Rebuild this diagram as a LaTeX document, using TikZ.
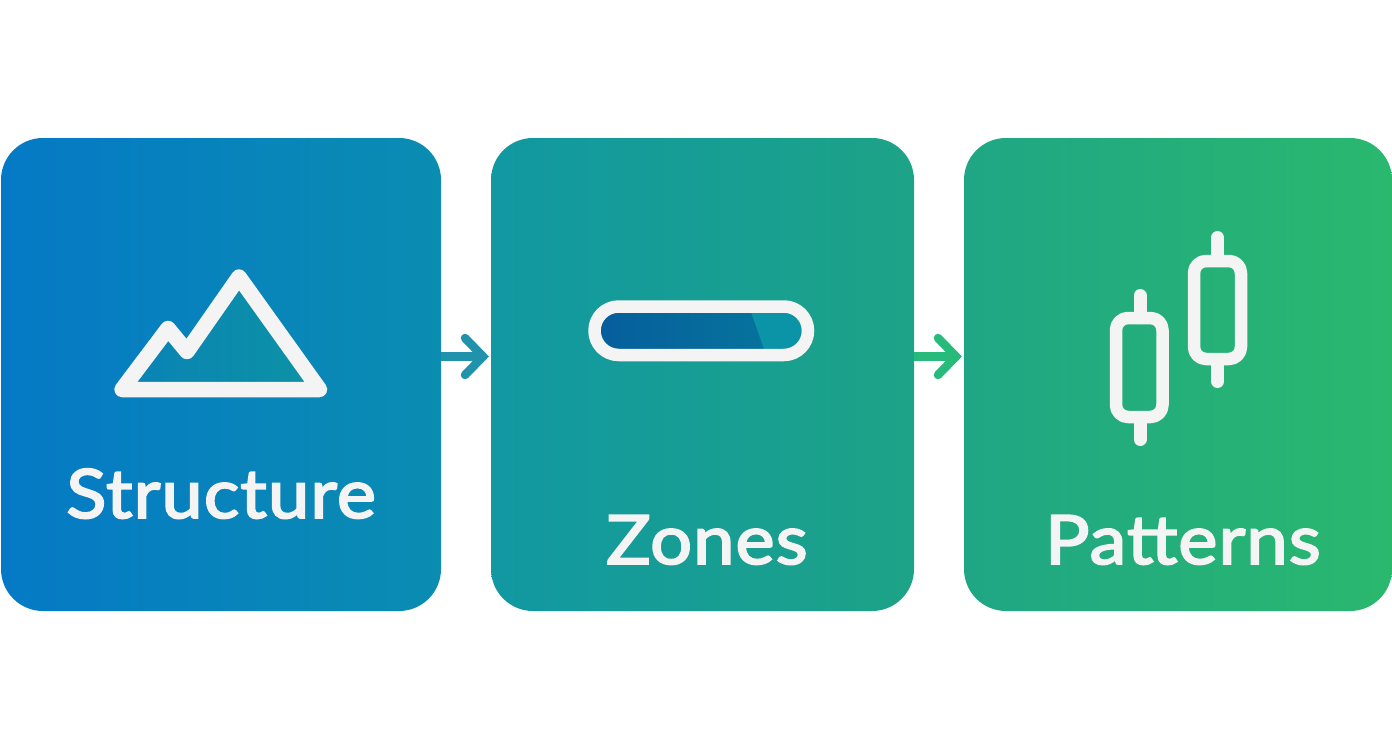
\documentclass[tikz,border=0pt]{standalone}
\usepackage{fontspec}
\setmainfont{Lato}[RawFeature={embolden=2.8},FakeStretch=1.09,LetterSpace=1.5]
\usetikzlibrary{calc}
\definecolor{iconw}{HTML}{F4F4F4}
\definecolor{aL}{HTML}{0579C6}\definecolor{aR}{HTML}{0A8DB1}
\definecolor{bL}{HTML}{1198A2}\definecolor{bR}{HTML}{1DA386}
\definecolor{cL}{HTML}{1FA685}\definecolor{cR}{HTML}{2AB86E}
\definecolor{arrA}{HTML}{2092AC}\definecolor{arrB}{HTML}{26BA7B}
\definecolor{pillL}{HTML}{065E9C}\definecolor{pillR}{HTML}{06789C}\definecolor{pillT}{HTML}{0B94A8}
\definecolor{mtL}{HTML}{0A82B6}\definecolor{mtR}{HTML}{0C93A4}
\tikzset{
  x=1pt,y=-1pt,
  panel/.style={inner sep=0pt,outer sep=0pt,minimum height=473pt,rounded corners=42pt,shading=axis,shading angle=100},
  label/.style={text=iconw,anchor=base,font=\fontsize{68}{70}\selectfont,inner sep=0pt},
  icon/.style={draw=iconw,line width=13pt,line join=round,line cap=round},
  link/.style={line width=8.5pt},
  barb/.style={line width=8.5pt,line cap=round,miter limit=10},
}
\begin{document}
\begin{tikzpicture}
\useasboundingbox (0,0) rectangle (1392,752);
\node[panel,minimum width=440pt,left color=aL,right color=aR] (a) at (221,374.5) {};
\node[panel,minimum width=423pt,left color=bL,right color=bR] (b) at (702.5,374.5) {};
\node[panel,minimum width=428pt,left color=cL,right color=cR] (c) at (1178,374.5) {};
% links
\draw[link,draw=arrA] ([yshift=18pt]a.east) -- ([xshift=-6pt,yshift=18pt]b.west);
\draw[barb,draw=arrA] ([shift={(-26pt,36.5pt)}]b.west) -- ([shift={(-8pt,18pt)}]b.west) -- ([shift={(-26pt,-0.5pt)}]b.west);
\draw[link,draw=arrB] ([yshift=18pt]b.east) -- ([xshift=-6pt,yshift=18pt]c.west);
\draw[barb,draw=arrB] ([shift={(-26pt,36.5pt)}]c.west) -- ([shift={(-8pt,18pt)}]c.west) -- ([shift={(-26pt,-0.5pt)}]c.west);
% labels
\node[label] (ta) at (221,518) {Structure};
\node[label] (tb) at (707,564) {Zones};
\node[label] (tc) at (1183,564) {Patterns};
% mountain
\shade[left color=mtL,right color=mtR] (122,389.5) -- (168,328.5) -- (187,351.5) -- (239,277) -- (319.5,389.5) -- cycle;
\draw[icon,line width=15.5pt] (122,389.5) -- (168,328.5) -- (187,351.5) -- (239,277) -- (319.5,389.5) -- cycle;
% pill
\begin{scope}
\clip[rounded corners=18.5pt] (601,312) rectangle (801,349);
\shade[left color=pillL,right color=pillR] (601,312) rectangle (801,349);
\fill[pillT] (751,312) -- (764,349) -- (801,349) -- (801,312) -- cycle;
\end{scope}
\draw[icon,line width=12.5pt,rounded corners=24.2pt] (594.5,306.5) rectangle (808,355);
% candles
\draw[icon] (1140,295.5) -- (1140,315);
\draw[icon] (1140,420) -- (1140,439.5);
\draw[icon,line width=12.5pt,rounded corners=12pt] (1116,318) rectangle (1162.5,417);
\draw[icon] (1217.5,237.5) -- (1217.5,258);
\draw[icon] (1217.5,362) -- (1217.5,381.5);
\draw[icon,line width=12.5pt,rounded corners=12pt] (1194,261) rectangle (1241,359);
\end{tikzpicture}
\end{document}
